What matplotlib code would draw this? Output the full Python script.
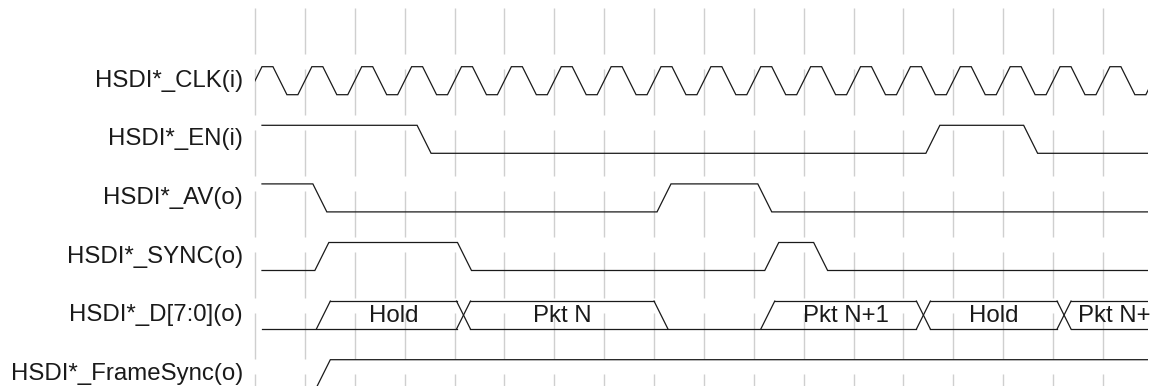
import matplotlib
matplotlib.use("Agg")
import matplotlib.pyplot as plt
from matplotlib.patches import Rectangle

plt.rcParams["font.family"] = ["Liberation Sans", "DejaVu Sans"]
plt.rcParams["lines.scale_dashes"] = False

# ── data (times in clock periods from first grid line) ─────────────────────
labels = ["HSDI*_CLK(i)", "HSDI*_EN(i)", "HSDI*_AV(o)", "HSDI*_SYNC(o)",
          "HSDI*_D[7:0](o)", "HSDI*_FrameSync(o)"]

clk_edges = [0.0, 0.5, 1.0, 1.5, 2.0, 2.5, 3.0, 3.5, 4.0, 4.5, 5.0, 5.5,
             6.0, 6.5, 7.0, 7.5, 8.0, 8.5, 9.0, 9.5, 10.0, 10.5, 11.0, 11.5,
             12.0, 12.5, 13.0, 13.5, 14.0, 14.5, 15.0, 15.5, 16.0, 16.5,
             17.0, 17.5, 18.0]
en_edges = [3.39, 13.59, 15.55]
av_edges = [1.30, 8.20, 10.22]
sync_edges = [1.34, 4.20, 10.36, 11.34]
fs_edges = [1.37]

d_edges = [1.37, 4.18, 8.14, 10.28, 13.40, 16.22]
d_states = ["0", "Hold", "Pkt N", "0", "Pkt N+1", "Hold", "Pkt N+2"]

# ── layout (pixels) ────────────────────────────────────────────────────────
W, H_PX = 1151, 386
X0 = 255          # first grid line
PER = 49.88       # px per clock period
LANE0 = 66.7      # high level of first lane
PITCH = 58.6
AMP = 28
EDGE = 0.14       # half-width of a transition (periods)
T_START = 0.14
T_END = (1148 - X0) / PER
D_LAST_END = 18.5

INK = "#1a1a1a"
GRID = "#cfcfcf"
LW = 0.9

fig = plt.figure(figsize=(W / 100, H_PX / 100), dpi=100, facecolor="white")
ax = fig.add_axes([0, 0, 1, 1])
ax.set_xlim(-X0 / PER, (W - X0) / PER)
ax.set_ylim(H_PX, 0)
ax.axis("off")

clip = Rectangle((0, 0), T_END, H_PX, transform=ax.transData)
text_clip = Rectangle((0, 0), (1141 - X0) / PER, H_PX, transform=ax.transData)

# grid
ax.vlines(range(18), 8, H_PX, colors=GRID, linewidth=1.0,
          linestyles=[(0, (46 * 0.72, 15 * 0.72))], zorder=1)


def hi(i):
    return LANE0 + PITCH * i


def lo(i):
    return LANE0 + PITCH * i + AMP


def digital(i, level0, edges, t0=T_START):
    xs, ys = [t0], [hi(i) if level0 else lo(i)]
    lvl = level0
    for te in edges:
        xs += [te - EDGE, te + EDGE]
        ys += [hi(i) if lvl else lo(i), lo(i) if lvl else hi(i)]
        lvl = 1 - lvl
    xs.append(T_END + 1)
    ys.append(hi(i) if lvl else lo(i))
    ln, = ax.plot(xs, ys, color=INK, lw=LW, zorder=3,
                  solid_joinstyle="miter")
    ln.set_clip_path(clip)


digital(0, 0, clk_edges, t0=-1)
digital(1, 1, en_edges)
digital(2, 1, av_edges)
digital(3, 0, sync_edges)
digital(5, 0, fs_edges)

# data bus lane
i = 4
bounds = [T_START] + d_edges + [D_LAST_END]
segs = []
# bottom line, broken at box-to-box crossings
start = T_START
for k, te in enumerate(d_edges):
    a, b = d_states[k], d_states[k + 1]
    if a != "0" and b != "0":
        segs.append(([start, te - EDGE], [lo(i), lo(i)]))
        segs.append(([te - EDGE, te + EDGE], [lo(i), hi(i)]))
        segs.append(([te - EDGE, te + EDGE], [hi(i), lo(i)]))
        start = te + EDGE
    elif a == "0":
        segs.append(([te - EDGE, te + EDGE], [lo(i), hi(i)]))
    else:
        segs.append(([te - EDGE, te + EDGE], [hi(i), lo(i)]))
segs.append(([start, D_LAST_END], [lo(i), lo(i)]))
# top lines and labels of boxes
for k, st in enumerate(d_states):
    if st == "0":
        continue
    a, b = bounds[k], bounds[k + 1]
    segs.append(([a + EDGE, b - EDGE], [hi(i), hi(i)]))
    t = ax.text((a + b) / 2, (hi(i) + lo(i)) / 2 + 1, st, ha="center",
                va="center", fontsize=17.3, color=INK, zorder=4)
    t.set_clip_path(text_clip)
for xs, ys in segs:
    ln, = ax.plot(xs, ys, color=INK, lw=LW, zorder=3)
    ln.set_clip_path(clip)

# lane labels
for k, name in enumerate(labels):
    ax.text((243 - X0) / PER, (hi(k) + lo(k)) / 2, name, ha="right",
            va="center", fontsize=17.3, color=INK)

fig.savefig("out.png", dpi=100, facecolor="white")
